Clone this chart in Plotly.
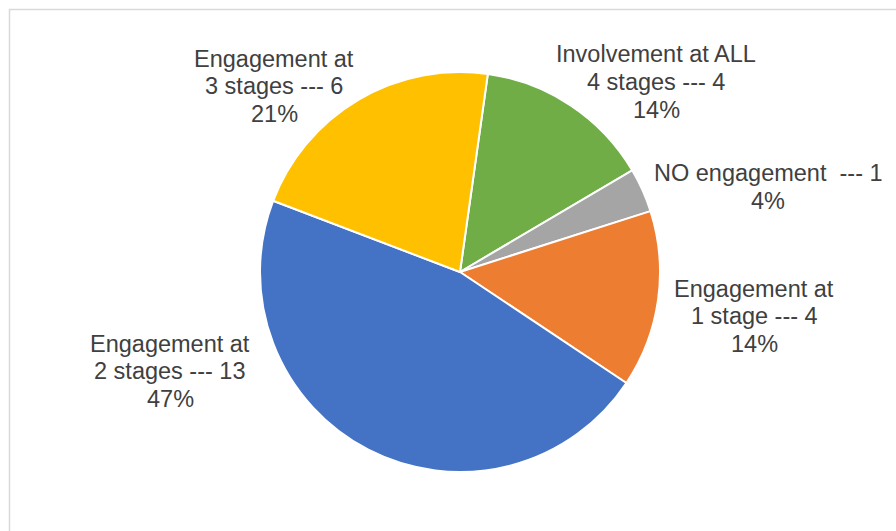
import math
import plotly.graph_objects as go

labels = ["Involvement at ALL<br>4 stages", "NO engagement\u00a0", "Engagement at<br>1 stage",
          "Engagement at<br>2 stages", "Engagement at<br>3 stages"]
values = [4, 1, 4, 13, 6]
colors = ["#70AD47", "#A5A5A5", "#ED7D31", "#4472C4", "#FFC000"]

# label block centres in pixels (layout only)
label_pos = [(656, 82), (768, 187), (754, 316), (170, 371), (274, 86)]
LINE_H = 27.5

W, H = 896, 531
fig = go.Figure()
fig.add_trace(go.Pie(
    labels=labels, values=values, sort=False, direction="clockwise", rotation=8,
    marker=dict(colors=colors, line=dict(color="white", width=2)),
    textinfo="none", hoverinfo="label+value+percent", showlegend=False,
    domain=dict(x=[260 / W, 660 / W], y=[1 - 472 / H, 1 - 72 / H]),
))

# largest-remainder rounding of percentages (as in Excel)
total = sum(values)
raw = [100 * v / total for v in values]
pcts = [math.floor(r) for r in raw]
left = 100 - sum(pcts)
order = sorted(range(len(raw)), key=lambda i: (raw[i] - pcts[i], values[i]), reverse=True)
for i in order[:left]:
    pcts[i] += 1

annotations = []
for lab, v, p, (px, py) in zip(labels, values, pcts, label_pos):
    lines = f"{lab} --- {v}<br>{p}%".split("<br>")
    n = len(lines)
    for k, line in enumerate(lines):
        yy = py + (k - (n - 1) / 2) * LINE_H
        annotations.append(dict(
            x=px / W, y=1 - yy / H, xref="paper", yref="paper", text=line,
            showarrow=False, xanchor="center", yanchor="middle", align="center",
            font=dict(family="Liberation Sans, Arial, sans-serif", size=23.5, color="#404040"),
        ))

fig.update_layout(
    width=W, height=H, margin=dict(l=0, r=0, t=0, b=0),
    paper_bgcolor="white", plot_bgcolor="white",
    annotations=annotations,
    shapes=[dict(type="rect", xref="paper", yref="paper",
                 x0=9.5 / W, x1=1.05, y0=-0.05, y1=1 - 9.5 / H,
                 line=dict(color="#D9D9D9", width=1.5), fillcolor="rgba(0,0,0,0)")],
)
fig.write_html("out.html")
